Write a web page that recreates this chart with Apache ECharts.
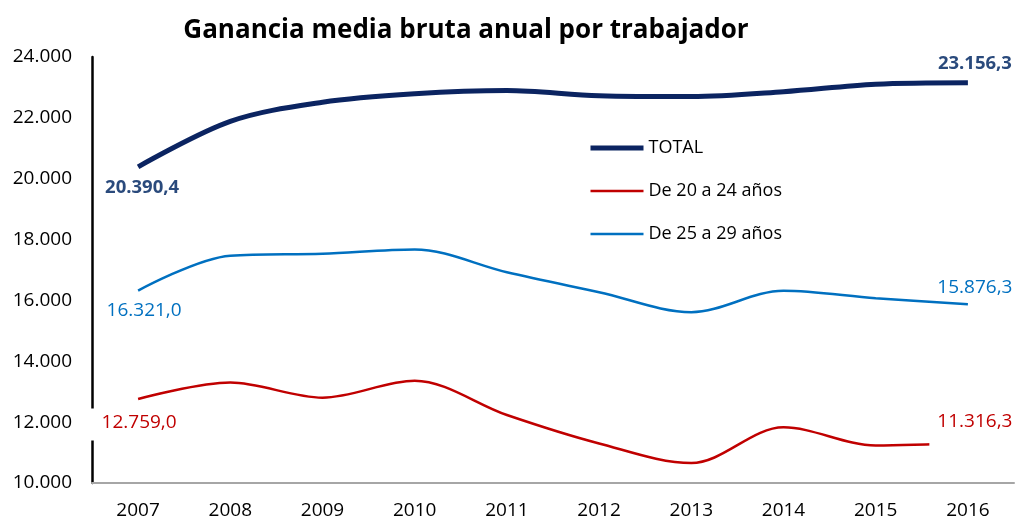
<!DOCTYPE html>
<html>
<head>
<meta charset="utf-8">
<title>Ganancia media bruta anual por trabajador</title>
<script src="https://cdn.jsdelivr.net/npm/echarts@6/dist/echarts.min.js"></script>
<style>
	html, body { margin: 0; padding: 0; background: #fff; }
	#chart { width: 1016px; height: 520px; }
</style>
</head>
<body>
<div id="chart"></div>
<script>
	// 数据
	var years = ['2007', '2008', '2009', '2010', '2011', '2012', '2013', '2014', '2015', '2016'];
	var total = [20390.4, 21883.4, 22511.5, 22790.2, 22899.4, 22726.4, 22697.9, 22858.2, 23106.3, 23156.3];
	var age20to24 = [12759.0, 13300, 12805, 13360, 12235, 11300, 10655, 11830, 11235, 11316.3];
	var age25to29 = [16321.0, 17470, 17535, 17675, 16925, 16270, 15615, 16320, 16075, 15876.3];
	var yTicks = { min: 10000, max: 24000, interval: 2000 };

	var FONT = 'Open Sans';
	var SMOOTH = 0.33;

	// 10000 -> 10.000
	function fmtThousands(v) {
		return String(Math.round(v)).replace(/\B(?=(\d{3})+(?!\d))/g, '.');
	}
	// 20390.4 -> 20.390,4
	function fmtValue(v) {
		var parts = v.toFixed(1).split('.');
		return fmtThousands(parseInt(parts[0], 10)) + ',' + parts[1];
	}

	// 只给首尾两个点加标签
	function buildData(values, first, last) {
		return values.map(function(v, i) {
			var item = { value: v };
			if (i === 0) item.label = first;
			if (i === values.length - 1) item.label = last;
			return item;
		});
	}

	function lbl(color, bold, pos, offset, extra) {
		var o = {
			show: true,
			position: pos,
			offset: offset,
			color: color,
			fontFamily: FONT,
			fontSize: bold ? 18.5 : 19,
			fontWeight: bold ? 'bold' : 'normal',
			formatter: function(p) { return fmtValue(p.value); }
		};
		for (var k in extra) o[k] = extra[k];
		return o;
	}

	var myChart = echarts.init(document.getElementById('chart'));
	var option = {
		animation: false,
		backgroundColor: '#fff',
		title: {
			text: 'Ganancia media bruta anual por trabajador',
			left: 461,
			textAlign: 'center',
			top: 13,
			textStyle: { fontFamily: FONT, fontSize: 26, fontWeight: 'bold', color: '#000' }
		},
		legend: {
			orient: 'vertical',
			left: 588,
			top: 139,
			padding: 0,
			itemWidth: 53,
			itemHeight: 14,
			itemGap: 25,
			itemStyle: { opacity: 0 },
			textStyle: { fontFamily: FONT, fontSize: 18, color: '#000' },
			data: [
				{ name: 'TOTAL', lineStyle: { width: 5 } },
				{ name: 'De 20 a 24 años', lineStyle: { width: 2.5 } },
				{ name: 'De 25 a 29 años', lineStyle: { width: 2.5 } }
			]
		},
		grid: { left: 92, right: 2, top: 57, bottom: 35 },
		xAxis: {
			type: 'category',
			data: years,
			boundaryGap: true,
			axisLine: { lineStyle: { color: '#a6a6a6', width: 2 } },
			axisTick: { show: false },
			axisLabel: { margin: 18, fontFamily: FONT, fontSize: 19, color: '#000' }
		},
		yAxis: {
			type: 'value',
			min: yTicks.min,
			max: yTicks.max,
			interval: yTicks.interval,
			axisLine: { show: true, lineStyle: { color: '#000', width: 2.5 } },
			axisTick: { show: false },
			splitLine: { show: false },
			axisLabel: {
				margin: 20,
				fontFamily: FONT,
				fontSize: 19,
				color: '#000',
				formatter: fmtThousands
			}
		},
		series: [
			{
				name: 'TOTAL',
				type: 'line',
				smooth: SMOOTH,
				symbol: 'circle',
				symbolSize: 1,
				itemStyle: { color: 'transparent' },
				lineStyle: { color: '#0b2461', width: 5 },
				z: 3,
				data: buildData(total,
					lbl('#2a4a7c', true, 'bottom', [4, 6]),
					lbl('#2a4a7c', true, 'top', [7, -4]))
			},
			{
				name: 'De 20 a 24 años',
				type: 'line',
				smooth: SMOOTH,
				symbol: 'circle',
				symbolSize: 1,
				itemStyle: { color: 'transparent' },
				lineStyle: { color: '#c00000', width: 2.5 },
				data: buildData(age20to24,
					lbl('#c00000', false, 'bottom', [1, 4], { backgroundColor: '#fff', padding: [5, 11, 8, 11] }),
					lbl('#c00000', false, 'top', [3, 12], { backgroundColor: '#fff', padding: [0, 0, 18, 8] }))
			},
			{
				name: 'De 25 a 29 años',
				type: 'line',
				smooth: SMOOTH,
				symbol: 'circle',
				symbolSize: 1,
				itemStyle: { color: 'transparent' },
				lineStyle: { color: '#0070c0', width: 2.5 },
				data: buildData(age25to29,
					lbl('#0070c0', false, 'bottom', [6, 5]),
					lbl('#0070c0', false, 'top', [7, -2]))
			}
		]
	};
	myChart.setOption(option);
	window.onresize = myChart.resize;
</script>
</body>
</html>
